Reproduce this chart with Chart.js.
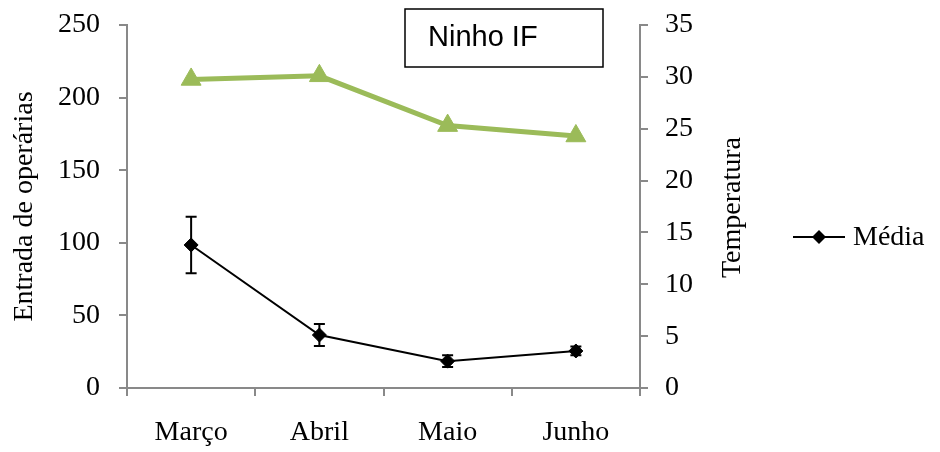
<!DOCTYPE html>
<html>
<head>
<meta charset="utf-8">
<script src="https://cdn.jsdelivr.net/npm/chart.js@4.4.0/dist/chart.umd.min.js"></script>
<style>
  html, body { margin: 0; padding: 0; background: #fff; }
  #wrap { width: 940px; height: 452px; }
</style>
</head>
<body>
<div id="wrap"><canvas id="chart" width="940" height="452"></canvas></div>
<script>
// dados
const meses = ['Março', 'Abril', 'Maio', 'Junho'];
const mediaEntrada = [98.5, 36.5, 18.5, 25.5];
const erroEntrada = [19.5, 7.5, 4, 3];
const temperatura = [29.75, 30.1, 25.3, 24.3];

const serif = 'Liberation Serif, Times New Roman, serif';
const axisGray = '#898989';

// barras de erro da média
const errorBars = {
    id: 'errorBars',
    afterDatasetsDraw(chart) {
        const meta = chart.getDatasetMeta(0);
        const y = chart.scales.y;
        const ctx = chart.ctx;
        ctx.save();
        ctx.strokeStyle = '#000';
        ctx.lineWidth = 2;
        meta.data.forEach((pt, i) => {
            const top = y.getPixelForValue(mediaEntrada[i] + erroEntrada[i]);
            const bot = y.getPixelForValue(mediaEntrada[i] - erroEntrada[i]);
            ctx.beginPath();
            ctx.moveTo(pt.x, top); ctx.lineTo(pt.x, bot);
            ctx.moveTo(pt.x - 5.5, top); ctx.lineTo(pt.x + 5.5, top);
            ctx.moveTo(pt.x - 5.5, bot); ctx.lineTo(pt.x + 5.5, bot);
            ctx.stroke();
        });
        ctx.restore();
    }
};

// caixa do título, título do eixo direito e legenda
const extras = {
    id: 'extras',
    afterDraw(chart) {
        const ctx = chart.ctx;
        const area = chart.chartArea;
        ctx.save();
        // caixa "Ninho IF"
        ctx.strokeStyle = '#000';
        ctx.lineWidth = 1.5;
        ctx.strokeRect(405, 9, 198, 58);
        ctx.fillStyle = '#000';
        ctx.font = '29px Liberation Sans, Arial, sans-serif';
        ctx.textBaseline = 'middle';
        ctx.textAlign = 'left';
        ctx.fillText('Ninho IF', 428, 38);

        // título do eixo direito
        ctx.font = '28px ' + serif;
        ctx.save();
        ctx.translate(733, (area.top + area.bottom) / 2 + 1);
        ctx.rotate(-Math.PI / 2);
        ctx.textAlign = 'center';
        ctx.fillText('Temperatura', 0, 0);
        ctx.restore();

        // legenda
        const ly = 237;
        ctx.lineWidth = 2;
        ctx.beginPath();
        ctx.moveTo(793, ly); ctx.lineTo(845, ly);
        ctx.stroke();
        ctx.beginPath();
        ctx.moveTo(819, ly - 7); ctx.lineTo(826, ly); ctx.lineTo(819, ly + 7); ctx.lineTo(812, ly);
        ctx.closePath();
        ctx.fill();
        ctx.textAlign = 'left';
        ctx.fillText('Média', 853, ly + 1);
        ctx.restore();
    }
};

const noVertPad = s => { s.paddingTop = 0; s.paddingBottom = 0; };

const ctx = document.getElementById('chart').getContext('2d');
const chart = new Chart(ctx, {
    type: 'line',
    data: {
        labels: meses,
        datasets: [{
            label: 'Média',
            data: mediaEntrada,
            yAxisID: 'y',
            borderColor: '#000',
            backgroundColor: '#000',
            borderWidth: 2,
            pointStyle: 'rectRot',
            pointRadius: 7,
            pointBorderWidth: 1,
            tension: 0
        }, {
            label: 'Temperatura',
            data: temperatura,
            yAxisID: 'y2',
            borderColor: '#9BBB59',
            backgroundColor: '#9BBB59',
            borderWidth: 5,
            pointStyle: 'triangle',
            pointRadius: 11.5,
            pointBorderWidth: 1,
            tension: 0
        }]
    },
    options: {
        responsive: false,
        animation: false,
        layout: { padding: { top: 25, left: 0, right: 0, bottom: 0 } },
        plugins: {
            legend: { display: false },
            tooltip: { enabled: false }
        },
        scales: {
            x: {
                offset: true,
                grid: { offset: true, drawOnChartArea: false, tickLength: 8, color: axisGray, lineWidth: 2 },
                border: { color: axisGray, width: 2 },
                ticks: { color: '#000', font: { family: serif, size: 28 }, padding: 20, maxRotation: 0 },
                afterFit: s => { s.height = 64; }
            },
            y: {
                position: 'left',
                min: 0, max: 250,
                ticks: { stepSize: 50, color: '#000', font: { family: serif, size: 28 }, padding: 19 },
                grid: { drawOnChartArea: false, tickLength: 8, color: axisGray, lineWidth: 2 },
                border: { color: axisGray, width: 2 },
                title: { display: true, text: 'Entrada de operárias', color: '#000', font: { family: serif, size: 28 }, padding: 8 },
                afterFit: s => { s.width = 127; noVertPad(s); }
            },
            y2: {
                position: 'right',
                min: 0, max: 35,
                ticks: { stepSize: 5, color: '#000', font: { family: serif, size: 28 }, padding: 17 },
                grid: { drawOnChartArea: false, tickLength: 8, color: axisGray, lineWidth: 2 },
                border: { color: axisGray, width: 2 },
                afterFit: s => { s.width = 300; noVertPad(s); }
            }
        }
    },
    plugins: [errorBars, extras]
});
</script>
</body>
</html>
